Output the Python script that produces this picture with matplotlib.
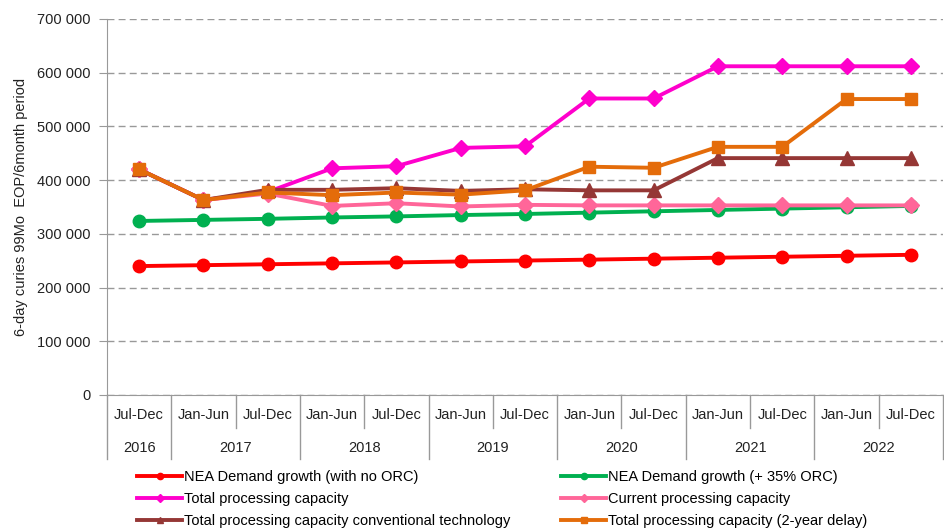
import matplotlib.pyplot as plt
import matplotlib.transforms as mtransforms
from matplotlib.ticker import FuncFormatter

plt.rcParams['font.family'] = ['Liberation Sans Narrow', 'Liberation Sans', 'DejaVu Sans']

# half-year periods 2016 H2 .. 2022 H2
periods = ['Jul-Dec', 'Jan-Jun', 'Jul-Dec', 'Jan-Jun', 'Jul-Dec', 'Jan-Jun', 'Jul-Dec',
           'Jan-Jun', 'Jul-Dec', 'Jan-Jun', 'Jul-Dec', 'Jan-Jun', 'Jul-Dec']
years = ['2016', '2017', '2018', '2019', '2020', '2021', '2022']
year_spans = [(0, 0), (1, 2), (3, 4), (5, 6), (7, 8), (9, 10), (11, 12)]

demand_no_orc = [240000, 241700, 243400, 245100, 246800, 248600, 250300,
                 252000, 253800, 255600, 257400, 259200, 261000]
demand_orc = [324000, 326000, 328000, 330500, 332500, 335000, 337000,
              339500, 342000, 344500, 347000, 349500, 352000]
total_cap = [420000, 363000, 378000, 422000, 426000, 460000, 463000,
             552000, 552000, 612000, 612000, 612000, 612000]
current_cap = [420000, 363000, 375000, 352000, 357000, 351000, 354000,
               353000, 353000, 353000, 353000, 353000, 353000]
conv_cap = [420000, 363000, 382000, 382000, 385000, 380000, 383000,
            381000, 381000, 441000, 441000, 441000, 441000]
delay_cap = [420000, 363000, 377000, 372000, 377000, 373000, 381000,
             425000, 423000, 462000, 462000, 551000, 551000]

fs = 10.5
fig = plt.figure(figsize=(9.44, 5.32), dpi=100)
ax = fig.add_axes([107 / 944, 1 - 395 / 532, 836 / 944, 376 / 532])

x = list(range(len(periods)))
lw = 2.8
l_red, = ax.plot(x, demand_no_orc, color='#FF0000', lw=lw, marker='o', ms=9,
                 label='NEA Demand growth (with no ORC)', zorder=3)
l_green, = ax.plot(x, demand_orc, color='#00B050', lw=lw, marker='o', ms=9,
                   label='NEA Demand growth (+ 35% ORC)', zorder=3)
l_mag, = ax.plot(x, total_cap, color='#FF00CC', lw=lw, marker='D', ms=8.5,
                 label='Total processing capacity', zorder=3)
l_pink, = ax.plot(x, current_cap, color='#FF6699', lw=lw, marker='D', ms=8.5,
                  label='Current processing capacity', zorder=3)
l_brown, = ax.plot(x, conv_cap, color='#953735', lw=lw, marker='^', ms=10,
                   label='Total processing capacity conventional technology', zorder=3)
l_orange, = ax.plot(x, delay_cap, color='#E46C0A', lw=lw, marker='s', ms=8.5,
                    label='Total processing capacity (2-year delay)', zorder=3)

ax.set_xlim(-0.5, len(periods) - 0.5)
ax.set_ylim(0, 700000)
ax.set_yticks(range(0, 700001, 100000))
ax.yaxis.set_major_formatter(FuncFormatter(lambda v, p: '{:,}'.format(int(v)).replace(',', ' ')))
ax.tick_params(axis='y', labelsize=fs, length=6, color='#999999', labelcolor='#222222', pad=6)
ax.set_xticks([])
ax.grid(axis='y', color='#999999', linestyle=(0, (5, 3)), lw=1)
ax.set_axisbelow(True)
for s in ['top', 'right']:
    ax.spines[s].set_visible(False)
ax.spines['left'].set_color('#999999')
ax.spines['bottom'].set_color('#999999')
ax.set_ylabel('6-day curies 99Mo  EOP/6month period', fontsize=fs, color='#222222', labelpad=6)

# two-level category axis
trans = mtransforms.blended_transform_factory(ax.transData, ax.transAxes)
for i, p in enumerate(periods):
    ax.text(i, -0.053, p, transform=trans, ha='center', va='center', fontsize=fs, color='#222222')
for yr, (a, b) in zip(years, year_spans):
    ax.text((a + b) / 2, -0.141, yr, transform=trans, ha='center', va='center', fontsize=fs, color='#222222')
year_bounds = [a - 0.5 for a, b in year_spans] + [len(periods) - 0.5]
for xb in year_bounds:
    ax.plot([xb, xb], [0, -0.17], transform=trans, color='#999999', lw=1, clip_on=False)
for a, b in year_spans:
    if b > a:
        ax.plot([a + 0.5, a + 0.5], [0, -0.088], transform=trans, color='#999999', lw=1, clip_on=False)

leg_kw = dict(frameon=False, fontsize=fs, handlelength=3.1, handletextpad=0.15,
              labelspacing=0.55, markerscale=0.5, borderaxespad=0, borderpad=0)
fig.legend(handles=[l_red, l_mag, l_brown], loc='upper left',
           bbox_to_anchor=(137 / 944, 1 - 470 / 532), **leg_kw)
fig.legend(handles=[l_green, l_pink, l_orange], loc='upper left',
           bbox_to_anchor=(561 / 944, 1 - 470 / 532), **leg_kw)

fig.savefig('out.png', dpi=100)
